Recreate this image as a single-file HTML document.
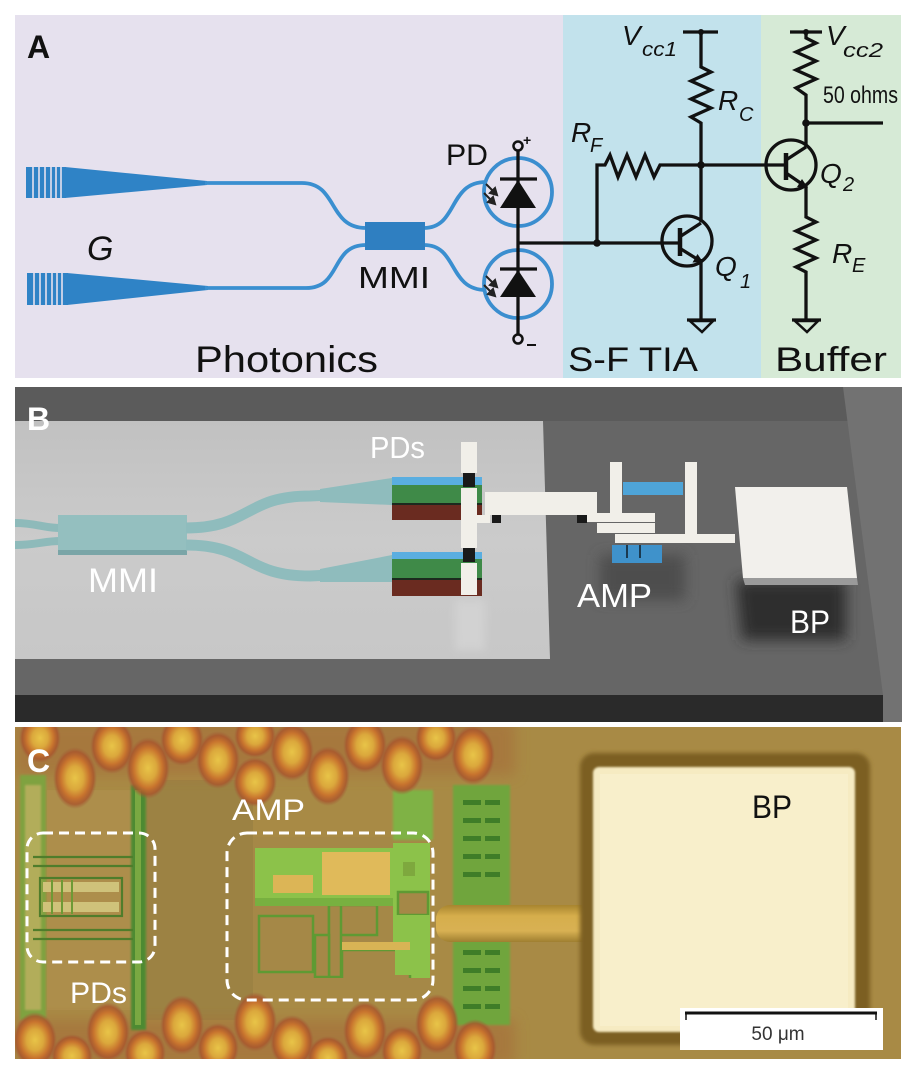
<!DOCTYPE html>
<html><head><meta charset="utf-8"><style>
html,body{margin:0;padding:0;background:#fff;}
svg{display:block;}
text{font-family:"Liberation Sans",sans-serif;}
</style></head><body>
<svg width="914" height="1074" viewBox="0 0 914 1074" xmlns="http://www.w3.org/2000/svg">
<defs>
<radialGradient id="blob" cx="50%" cy="50%" r="50%">
<stop offset="0%" stop-color="#e8c448"/>
<stop offset="38%" stop-color="#dba83c"/>
<stop offset="65%" stop-color="#c8742e"/>
<stop offset="85%" stop-color="#a9552c" stop-opacity="0.8"/>
<stop offset="100%" stop-color="#a0603a" stop-opacity="0"/>
</radialGradient>
<linearGradient id="slab" x1="0" y1="0" x2="0" y2="1">
<stop offset="0" stop-color="#c1c1c1"/><stop offset="0.5" stop-color="#cbcbcb"/><stop offset="1" stop-color="#c7c7c7"/>
</linearGradient>
<linearGradient id="trace" x1="0" y1="0" x2="0" y2="1">
<stop offset="0" stop-color="#a8852f"/><stop offset="0.3" stop-color="#d6ae4c"/><stop offset="0.7" stop-color="#d8b153"/><stop offset="1" stop-color="#9f7f30"/>
</linearGradient>
<filter id="blur6" x="-30%" y="-30%" width="160%" height="160%"><feGaussianBlur stdDeviation="7"/></filter>
<filter id="blur4" x="-30%" y="-30%" width="160%" height="160%"><feGaussianBlur stdDeviation="4"/></filter>
<filter id="blur2"><feGaussianBlur stdDeviation="2"/></filter>
<filter id="blur1"><feGaussianBlur stdDeviation="1"/></filter>
</defs>

<!-- ================= PANEL A ================= -->
<rect x="15" y="15" width="548" height="363" fill="#e6e1ee"/>
<rect x="563" y="15" width="198" height="363" fill="#c2e2ec"/>
<rect x="761" y="15" width="140" height="363" fill="#d6ead6"/>

<g fill="#2f83c6">
<rect x="26" y="167" width="40" height="31"/>
<polygon points="65,167 65,198 207,185 207,181"/>
<rect x="27" y="273" width="41" height="32"/>
<polygon points="67,273 67,305 208,290 208,286"/>
</g>
<g stroke="#e6e1ee" stroke-width="1.6">
<line x1="33" y1="167" x2="33" y2="198"/><line x1="39" y1="167" x2="39" y2="198"/><line x1="45" y1="167" x2="45" y2="198"/><line x1="51" y1="167" x2="51" y2="198"/><line x1="56" y1="167" x2="56" y2="198"/><line x1="61" y1="167" x2="61" y2="198"/>
<line x1="34" y1="273" x2="34" y2="305"/><line x1="40" y1="273" x2="40" y2="305"/><line x1="46" y1="273" x2="46" y2="305"/><line x1="52" y1="273" x2="52" y2="305"/><line x1="57" y1="273" x2="57" y2="305"/><line x1="62" y1="273" x2="62" y2="305"/>
</g>
<g fill="none" stroke="#3a8fd0" stroke-width="3.8">
<path d="M205,183 L302,183 C338,183 328,228 366,228"/>
<path d="M205,288 L306,288 C342,288 330,245 366,245"/>
<path d="M424,228 C458,228 448,182 486,182"/>
<path d="M424,245 C458,245 448,290 486,290"/>
</g>
<rect x="365" y="222" width="60" height="28" fill="#2f7fc1"/>

<g fill="none" stroke="#3b8ecf" stroke-width="3.8">
<circle cx="518" cy="192" r="34"/>
<circle cx="518" cy="284" r="34"/>
</g>
<g stroke="#111" stroke-width="3.3" fill="none">
<line x1="518" y1="150" x2="518" y2="335"/>
<line x1="500" y1="179" x2="537" y2="179"/>
<line x1="500" y1="269" x2="537" y2="269"/>
<line x1="518" y1="243" x2="681" y2="243"/>
</g>
<g fill="#111">
<polygon points="500,208 536,208 518,180"/>
<polygon points="500,297 536,297 518,270"/>
</g>
<circle cx="518" cy="146" r="4.5" fill="#e6e1ee" stroke="#111" stroke-width="2.5"/>
<circle cx="518" cy="339" r="4.5" fill="#e6e1ee" stroke="#111" stroke-width="2.5"/>
<text x="523" y="145" font-size="14" font-weight="bold" fill="#111">+</text>
<line x1="527" y1="345" x2="536" y2="345" stroke="#111" stroke-width="2"/>
<g stroke="#222" stroke-width="2" fill="#222">
<line x1="486" y1="184" x2="494" y2="192"/><polygon points="497,195 490,193 495,188"/>
<line x1="484" y1="193" x2="492" y2="201"/><polygon points="495,204 488,202 493,197"/>
<line x1="486" y1="276" x2="494" y2="284"/><polygon points="497,287 490,285 495,280"/>
<line x1="484" y1="285" x2="492" y2="293"/><polygon points="495,296 488,294 493,289"/>
</g>

<g stroke="#111" stroke-width="3.3" fill="none" stroke-linejoin="miter">
<polyline points="597,243 597,165 605,165 610,155 618,177 627,155 636,177 645,155 654,177 660,165 786,165"/>
<line x1="683" y1="32" x2="718" y2="32"/>
<polyline points="701,32 701,67 711,72 691,81 711,90 691,99 711,108 691,117 701,123 701,222"/>
<line x1="790" y1="32" x2="822" y2="32"/>
<polyline points="806,32 806,38 816,43 796,52 816,61 796,70 816,79 796,88 806,95 806,147"/>
<line x1="806" y1="123" x2="883" y2="123"/>
<circle cx="687" cy="241" r="25"/>
<line x1="681" y1="236" x2="701" y2="223"/>
<line x1="681" y1="249" x2="697" y2="259"/>
<line x1="701" y1="259" x2="701" y2="320"/>
<line x1="687" y1="320" x2="716" y2="320"/>
<polygon points="690,321 713,321 702,332" stroke-width="2.5"/>
<circle cx="791" cy="165" r="25"/>
<line x1="786" y1="160" x2="806" y2="147"/>
<line x1="786" y1="173" x2="802" y2="184"/>
<polyline points="806,186 806,217 816,222 796,231 816,240 796,249 816,258 796,267 806,272 806,320"/>
<line x1="792" y1="320" x2="821" y2="320"/>
<polygon points="795,321 818,321 807,332" stroke-width="2.5"/>
</g>
<line x1="680" y1="228" x2="680" y2="256" stroke="#111" stroke-width="4.5"/>
<line x1="786" y1="153" x2="786" y2="180" stroke="#111" stroke-width="4.5"/>
<g fill="#111">
<polygon points="703,262 692.5,262.5 697.5,254"/>
<polygon points="808,188 797,187 802,179"/>
<circle cx="597" cy="243" r="3.8"/>
<circle cx="701" cy="165" r="3.8"/>
<circle cx="701" cy="32" r="3"/>
<circle cx="806" cy="32" r="3"/>
<circle cx="806" cy="123" r="3.8"/>
</g>

<g fill="#111" font-style="italic">
<text x="622" y="45" font-size="28">V</text>
<text x="642" y="56" font-size="20" textLength="35" lengthAdjust="spacingAndGlyphs">cc1</text>
<text x="718" y="110" font-size="28">R</text>
<text x="739" y="121" font-size="20">C</text>
<text x="571" y="142" font-size="28">R</text>
<text x="590" y="152" font-size="20">F</text>
<text x="826" y="45" font-size="28">V</text>
<text x="843" y="57" font-size="20" textLength="40" lengthAdjust="spacingAndGlyphs">cc2</text>
<text x="820" y="183" font-size="28">Q</text>
<text x="843" y="191" font-size="20">2</text>
<text x="715" y="276" font-size="28">Q</text>
<text x="740" y="288" font-size="20">1</text>
<text x="832" y="263" font-size="28">R</text>
<text x="852" y="272" font-size="20">E</text>
<text x="87" y="260" font-size="34">G</text>
</g>
<text x="823" y="103" font-size="24" fill="#111" textLength="75" lengthAdjust="spacingAndGlyphs">50 ohms</text>
<text x="27" y="58" font-size="32" font-weight="bold" fill="#111">A</text>
<text x="446" y="165" font-size="30" fill="#111" textLength="42" lengthAdjust="spacingAndGlyphs">PD</text>
<text x="358" y="288" font-size="31" fill="#111" textLength="72" lengthAdjust="spacingAndGlyphs">MMI</text>
<text x="195" y="372" font-size="37" fill="#111" textLength="183" lengthAdjust="spacingAndGlyphs">Photonics</text>
<text x="568" y="371" font-size="34" fill="#111" textLength="130" lengthAdjust="spacingAndGlyphs">S-F TIA</text>
<text x="775" y="371" font-size="34" fill="#111" textLength="112" lengthAdjust="spacingAndGlyphs">Buffer</text>

<!-- ================= PANEL B ================= -->
<svg x="15" y="387" width="887" height="335" viewBox="15 387 887 335" overflow="hidden">
<rect x="15" y="387" width="887" height="335" fill="#666"/>
<rect x="15" y="387" width="887" height="34" fill="#5b5b5b"/>
<polygon points="843,387 902,387 902,722 883,722 883,695" fill="#727272"/>
<rect x="15" y="695" width="868" height="27" fill="#2a2a2a"/>
<polygon points="15,421 543,421 550,659 15,659" fill="url(#slab)"/>
<rect x="455" y="600" width="30" height="50" fill="#d2d2d2" filter="url(#blur4)"/>
<rect x="600" y="555" width="85" height="45" fill="#4e4e4e" filter="url(#blur6)"/>
<polygon points="736,580 846,580 846,640 742,640" fill="#2e2e2e" filter="url(#blur6)"/>

<g fill="none" stroke="#8ebaba" stroke-width="8">
<path d="M15,523 C35,523 45,528 60,528"/>
<path d="M15,545 C35,545 45,541 60,541"/>
</g>
<rect x="58" y="515" width="129" height="40" fill="#94bfbf"/>
<rect x="58" y="550" width="129" height="5" fill="#7aa5a7"/>
<g fill="none" stroke="#8fbcbd" stroke-width="11">
<path d="M186,528 C250,528 245,496 310,496 L330,495"/>
<path d="M186,545 C250,545 245,576 310,576 L330,575"/>
</g>
<polygon points="320,489 392,478 392,505 320,502" fill="#8fbcbd"/>
<polygon points="320,569 392,555 392,582 320,582" fill="#8fbcbd"/>
<rect x="392" y="477" width="90" height="8" fill="#5aaee0"/>
<rect x="392" y="485" width="90" height="18" fill="#3f8a48"/>
<rect x="392" y="503" width="90" height="2" fill="#1c2a1e"/>
<rect x="392" y="505" width="90" height="15" fill="#6a2b20"/>
<rect x="392" y="552" width="90" height="7" fill="#5aaee0"/>
<rect x="392" y="559" width="90" height="19" fill="#3f8a48"/>
<rect x="392" y="578" width="90" height="2" fill="#1c2a1e"/>
<rect x="392" y="580" width="90" height="16" fill="#6a2b20"/>
<g fill="#f1efe9">
<rect x="461" y="442" width="16" height="31"/>
<rect x="461" y="488" width="16" height="60"/>
<rect x="477" y="515" width="13" height="8"/>
<rect x="461" y="563" width="16" height="32"/>
<rect x="485" y="492" width="112" height="23"/>
<rect x="577" y="513" width="78" height="9"/>
<rect x="597" y="523" width="58" height="10"/>
<rect x="615" y="534" width="120" height="9"/>
<rect x="610" y="462" width="12" height="51"/>
<rect x="685" y="462" width="12" height="72"/>
</g>
<g fill="#1a1a1a">
<rect x="463" y="473" width="12" height="14"/>
<rect x="463" y="548" width="12" height="14"/>
<rect x="492" y="515" width="9" height="8"/>
<rect x="577" y="515" width="10" height="8"/>
</g>
<rect x="623" y="482" width="60" height="13" fill="#4ea4d8"/>
<rect x="612" y="545" width="50" height="18" fill="#3f92cb"/>
<g stroke="#1b3a50" stroke-width="2"><line x1="627" y1="545" x2="627" y2="558"/><line x1="640" y1="545" x2="640" y2="558"/></g>
<polygon points="743,578 857,578 858,585 745,585" fill="#9a9a9a"/>
<polygon points="735,487 847,487 857,578 743,578" fill="#f2f0ec"/>
<text x="27" y="430" font-size="32" font-weight="bold" fill="#fff">B</text>
<text x="370" y="458" font-size="31" fill="#fff" textLength="55" lengthAdjust="spacingAndGlyphs">PDs</text>
<text x="88" y="592" font-size="34" fill="#fff" textLength="70" lengthAdjust="spacingAndGlyphs">MMI</text>
<text x="577" y="607" font-size="33" fill="#fff" textLength="75" lengthAdjust="spacingAndGlyphs">AMP</text>
<text x="790" y="633" font-size="32" fill="#fff" textLength="40" lengthAdjust="spacingAndGlyphs">BP</text>
</svg>

<!-- ================= PANEL C ================= -->
<svg x="15" y="727" width="886" height="332" viewBox="15 727 886 332" overflow="hidden">
<rect x="15" y="727" width="886" height="332" fill="#a88a45"/>
<rect x="47" y="790" width="86" height="220" fill="#ad8e4b"/>
<rect x="146" y="780" width="107" height="240" fill="#9c8243"/>
<!-- reddish halo bands behind blobs -->
<rect x="15" y="720" width="500" height="55" fill="#a66a38" opacity="0.55" filter="url(#blur6)"/>
<rect x="15" y="1020" width="500" height="45" fill="#a66a38" opacity="0.55" filter="url(#blur6)"/>
<rect x="20" y="775" width="26" height="245" fill="#7fa23f" filter="url(#blur1)"/>
<rect x="25" y="785" width="16" height="225" fill="#b2ad5a" filter="url(#blur1)"/>
<rect x="131" y="785" width="15" height="245" fill="#4d8a30" filter="url(#blur1)"/>
<rect x="135" y="790" width="6" height="235" fill="#7aa842"/>
<g stroke="#4f7d2b" stroke-width="2.2" fill="none">
<line x1="33" y1="857" x2="133" y2="857"/>
<line x1="33" y1="866" x2="133" y2="866"/>
<line x1="33" y1="930" x2="133" y2="930"/>
<line x1="33" y1="939" x2="133" y2="939"/>
<rect x="40" y="878" width="82" height="38"/>
</g>
<rect x="43" y="882" width="76" height="10" fill="#cfc27a"/>
<rect x="43" y="902" width="76" height="10" fill="#cfc27a"/>
<g stroke="#6e9a35" stroke-width="2"><line x1="52" y1="880" x2="52" y2="914"/><line x1="62" y1="880" x2="62" y2="914"/><line x1="72" y1="880" x2="72" y2="914"/></g>
<!-- AMP interior -->
<rect x="253" y="837" width="177" height="152" fill="#a58847"/>
<rect x="255" y="848" width="138" height="50" fill="#8cc24a"/>
<rect x="393" y="843" width="37" height="137" fill="#8cc24a"/>
<g fill="#a58847" stroke="#5f9a33" stroke-width="2.5">
<rect x="259" y="916" width="54" height="56"/>
<rect x="329" y="905" width="48" height="30"/>
<rect x="329" y="905" width="12" height="72"/>
<rect x="342" y="950" width="68" height="30"/>
<rect x="398" y="892" width="30" height="23"/>
<rect x="315" y="935" width="14" height="42"/>
</g>
<rect x="255" y="898" width="138" height="8" fill="#78b040"/>
<rect x="395" y="915" width="35" height="60" fill="#8cc24a"/>
<rect x="322" y="852" width="68" height="43" fill="#e0ba5a"/>
<rect x="273" y="875" width="40" height="18" fill="#dcb556"/>
<rect x="342" y="942" width="68" height="8" fill="#d8b455"/>
<rect x="403" y="862" width="12" height="14" fill="#7ea83e"/>
<rect x="253" y="978" width="177" height="12" fill="#a58847"/>
<rect x="393" y="790" width="40" height="50" fill="#7fb244" filter="url(#blur1)"/>
<rect x="453" y="785" width="57" height="240" fill="#6fa53c" filter="url(#blur1)"/>
<g fill="#3f7d28">
<rect x="463" y="800" width="18" height="5"/><rect x="485" y="800" width="15" height="5"/>
<rect x="463" y="818" width="18" height="5"/><rect x="485" y="818" width="15" height="5"/>
<rect x="463" y="836" width="18" height="5"/><rect x="485" y="836" width="15" height="5"/>
<rect x="463" y="854" width="18" height="5"/><rect x="485" y="854" width="15" height="5"/>
<rect x="463" y="872" width="18" height="5"/><rect x="485" y="872" width="15" height="5"/>
<rect x="463" y="950" width="18" height="5"/><rect x="485" y="950" width="15" height="5"/>
<rect x="463" y="968" width="18" height="5"/><rect x="485" y="968" width="15" height="5"/>
<rect x="463" y="986" width="18" height="5"/><rect x="485" y="986" width="15" height="5"/>
<rect x="463" y="1004" width="18" height="5"/><rect x="485" y="1004" width="15" height="5"/>
</g>
<g fill="url(#blob)">
<ellipse cx="40" cy="738" rx="21" ry="25"/>
<ellipse cx="75" cy="778" rx="22" ry="31"/>
<ellipse cx="112" cy="746" rx="22" ry="28"/>
<ellipse cx="148" cy="768" rx="22" ry="31"/>
<ellipse cx="182" cy="740" rx="22" ry="26"/>
<ellipse cx="218" cy="760" rx="22" ry="29"/>
<ellipse cx="255" cy="736" rx="21" ry="22"/>
<ellipse cx="255" cy="782" rx="22" ry="25"/>
<ellipse cx="292" cy="752" rx="22" ry="29"/>
<ellipse cx="328" cy="776" rx="22" ry="30"/>
<ellipse cx="365" cy="745" rx="22" ry="28"/>
<ellipse cx="402" cy="765" rx="22" ry="30"/>
<ellipse cx="436" cy="738" rx="21" ry="24"/>
<ellipse cx="473" cy="755" rx="22" ry="30"/>
<ellipse cx="35" cy="1040" rx="22" ry="28"/>
<ellipse cx="72" cy="1056" rx="21" ry="22"/>
<ellipse cx="108" cy="1032" rx="22" ry="30"/>
<ellipse cx="145" cy="1053" rx="21" ry="24"/>
<ellipse cx="182" cy="1025" rx="22" ry="30"/>
<ellipse cx="218" cy="1048" rx="21" ry="25"/>
<ellipse cx="255" cy="1022" rx="22" ry="30"/>
<ellipse cx="292" cy="1042" rx="22" ry="27"/>
<ellipse cx="328" cy="1058" rx="21" ry="22"/>
<ellipse cx="365" cy="1031" rx="22" ry="30"/>
<ellipse cx="402" cy="1051" rx="21" ry="25"/>
<ellipse cx="437" cy="1024" rx="22" ry="30"/>
<ellipse cx="475" cy="1048" rx="22" ry="29"/>
</g>
<rect x="436" y="905" width="160" height="37" rx="14" fill="url(#trace)"/>
<rect x="580" y="753" width="290" height="292" rx="14" fill="#7c5f24" filter="url(#blur2)"/>
<rect x="593" y="767" width="262" height="265" rx="6" fill="#f6ebc2" filter="url(#blur1)"/>
<rect x="600" y="774" width="248" height="252" fill="#f8efcb"/>
<text x="752" y="818" font-size="32" fill="#111" textLength="40" lengthAdjust="spacingAndGlyphs">BP</text>
<rect x="680" y="1008" width="203" height="42" fill="#fff"/>
<line x1="685" y1="1013" x2="877" y2="1013" stroke="#111" stroke-width="3"/>
<line x1="686" y1="1012" x2="686" y2="1020" stroke="#111" stroke-width="1.5"/>
<line x1="876" y1="1012" x2="876" y2="1020" stroke="#111" stroke-width="1.5"/>
<text x="778" y="1040" font-size="19" fill="#333" text-anchor="middle">50 μm</text>
<g fill="none" stroke="#fff" stroke-width="3" stroke-dasharray="10 6">
<rect x="27" y="833" width="128" height="129" rx="16"/>
<rect x="227" y="833" width="206" height="167" rx="20"/>
</g>
<text x="27" y="772" font-size="32" font-weight="bold" fill="#fff">C</text>
<text x="232" y="820" font-size="30" fill="#fff" textLength="73" lengthAdjust="spacingAndGlyphs">AMP</text>
<text x="70" y="1003" font-size="30" fill="#fff" textLength="57" lengthAdjust="spacingAndGlyphs">PDs</text>
</svg>
</svg>
</body></html>
